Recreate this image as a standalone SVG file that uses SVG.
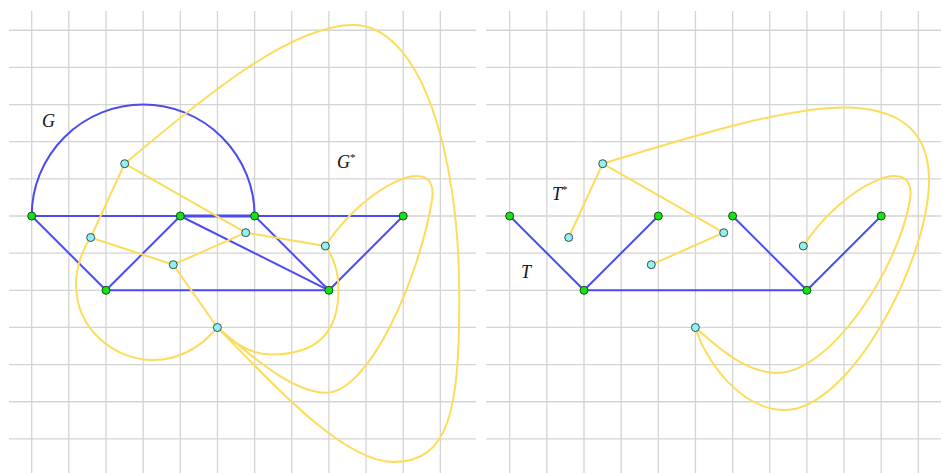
<svg xmlns="http://www.w3.org/2000/svg" width="942" height="473" viewBox="0 0 942 473">
<style>
.grid line{stroke:#d4d4d4;stroke-width:1.3}
.blue{stroke:#4b4bf2;stroke-width:2;fill:none}
.yel{stroke:#fcdc5a;stroke-width:2;fill:none}
.gv{fill:#13e313;stroke:#1d4a1d;stroke-width:1}
.cv{fill:#8cf3f3;stroke:#3c4a4a;stroke-width:1}
.lbl{font-family:"Liberation Serif",serif;font-style:italic;font-size:18px;fill:#111}
.sup{font-size:11px;font-style:normal}
</style>
<rect width="942" height="473" fill="#fff"/>
<g class="grid" id="grid-left">
<line x1="9" y1="30.25" x2="476" y2="30.25"/><line x1="9" y1="67.4" x2="476" y2="67.4"/><line x1="9" y1="104.55" x2="476" y2="104.55"/><line x1="9" y1="141.7" x2="476" y2="141.7"/><line x1="9" y1="178.85" x2="476" y2="178.85"/><line x1="9" y1="216" x2="476" y2="216"/><line x1="9" y1="253.15" x2="476" y2="253.15"/><line x1="9" y1="290.3" x2="476" y2="290.3"/><line x1="9" y1="327.45" x2="476" y2="327.45"/><line x1="9" y1="364.6" x2="476" y2="364.6"/><line x1="9" y1="401.75" x2="476" y2="401.75"/><line x1="9" y1="438.9" x2="476" y2="438.9"/>
<line x1="31.7" y1="11" x2="31.7" y2="473"/><line x1="68.85" y1="11" x2="68.85" y2="473"/><line x1="106" y1="11" x2="106" y2="473"/><line x1="143.15" y1="11" x2="143.15" y2="473"/><line x1="180.3" y1="11" x2="180.3" y2="473"/><line x1="217.45" y1="11" x2="217.45" y2="473"/><line x1="254.6" y1="11" x2="254.6" y2="473"/><line x1="291.75" y1="11" x2="291.75" y2="473"/><line x1="328.9" y1="11" x2="328.9" y2="473"/><line x1="366.05" y1="11" x2="366.05" y2="473"/><line x1="403.2" y1="11" x2="403.2" y2="473"/><line x1="440.35" y1="11" x2="440.35" y2="473"/>
</g>
<g class="grid" id="grid-right">
<line x1="486" y1="30.25" x2="941" y2="30.25"/><line x1="486" y1="67.4" x2="941" y2="67.4"/><line x1="486" y1="104.55" x2="941" y2="104.55"/><line x1="486" y1="141.7" x2="941" y2="141.7"/><line x1="486" y1="178.85" x2="941" y2="178.85"/><line x1="486" y1="216" x2="941" y2="216"/><line x1="486" y1="253.15" x2="941" y2="253.15"/><line x1="486" y1="290.3" x2="941" y2="290.3"/><line x1="486" y1="327.45" x2="941" y2="327.45"/><line x1="486" y1="364.6" x2="941" y2="364.6"/><line x1="486" y1="401.75" x2="941" y2="401.75"/><line x1="486" y1="438.9" x2="941" y2="438.9"/>
<line x1="509.7" y1="11" x2="509.7" y2="473"/><line x1="546.85" y1="11" x2="546.85" y2="473"/><line x1="584" y1="11" x2="584" y2="473"/><line x1="621.15" y1="11" x2="621.15" y2="473"/><line x1="658.3" y1="11" x2="658.3" y2="473"/><line x1="695.45" y1="11" x2="695.45" y2="473"/><line x1="732.6" y1="11" x2="732.6" y2="473"/><line x1="769.75" y1="11" x2="769.75" y2="473"/><line x1="806.9" y1="11" x2="806.9" y2="473"/><line x1="844.05" y1="11" x2="844.05" y2="473"/><line x1="881.2" y1="11" x2="881.2" y2="473"/><line x1="918.35" y1="11" x2="918.35" y2="473"/>
</g>
<g id="connectors">
<g id="G-edges">
<path class="blue" d="M31.7,216 A111.45,111.45 0 0 1 254.6,216"/>
<line class="blue" x1="31.7" y1="216" x2="403.2" y2="216"/>
<line class="blue" x1="180.3" y1="216" x2="254.6" y2="216" style="stroke-width:3"/>
<line class="blue" x1="31.7" y1="216" x2="106" y2="290.3"/>
<line class="blue" x1="106" y1="290.3" x2="180.3" y2="216"/>
<line class="blue" x1="106" y1="290.3" x2="328.9" y2="290.3"/>
<line class="blue" x1="180.3" y1="216" x2="328.9" y2="290.3"/>
<line class="blue" x1="254.6" y1="216" x2="328.9" y2="290.3"/>
<line class="blue" x1="328.9" y1="290.3" x2="403.2" y2="216"/>
</g>
<g id="Gstar-edges">
<line class="yel" x1="124.7" y1="163.7" x2="90.7" y2="237.5"/>
<line class="yel" x1="124.7" y1="163.7" x2="245.7" y2="232.7"/>
<line class="yel" x1="90.7" y1="237.5" x2="173.3" y2="264.7"/>
<line class="yel" x1="173.3" y1="264.7" x2="245.7" y2="232.7"/>
<line class="yel" x1="245.7" y1="232.7" x2="325.3" y2="246"/>
<line class="yel" x1="173.3" y1="264.7" x2="217.4" y2="327.5"/>
<path class="yel" d="M124.7,163.7 C200,100 290,25 353,25 C420,25 459.3,150 459.3,296 C459.3,410 450,462 393,462 C340,462 260,370 217.4,327.5"/>
<path class="yel" d="M325.3,246 C365,185 440,150 432,200 C420,275 370,392.7 326,392.7 C290,392.7 245,350 217.4,327.5"/>
<path class="yel" d="M325.3,246 C333,256 338.5,272 338.5,288 C339,330 320,354.5 271,354.5 C250,354.5 232,342 217.4,327.5"/>
<path class="yel" d="M90.7,237.5 C82,250 76,268 76,284 C76,330 115,360 153.3,360 C185,360 205,342 217.4,327.5"/>
</g>
<g id="T-edges">
<line class="blue" x1="509.7" y1="216" x2="584" y2="290.3"/>
<line class="blue" x1="584" y1="290.3" x2="658.3" y2="216"/>
<line class="blue" x1="584" y1="290.3" x2="806.9" y2="290.3"/>
<line class="blue" x1="732.6" y1="216" x2="806.9" y2="290.3"/>
<line class="blue" x1="806.9" y1="290.3" x2="881.2" y2="216"/>
</g>
<g id="Tstar-edges">
<line class="yel" x1="602.7" y1="163.7" x2="568.7" y2="237.5"/>
<line class="yel" x1="602.7" y1="163.7" x2="723.7" y2="232.7"/>
<line class="yel" x1="651.3" y1="264.7" x2="723.7" y2="232.7"/>
<path class="yel" d="M602.7,163.7 C680,140 790,105 850,107.5 C910,110 929,140 929,180 C929,260 850,410 785,410 C740,410 705,360 695.4,327.5"/>
<path class="yel" d="M803.3,246 C843,185 918,150 910,200 C898,270 830,373 777,373 C745,373 715,345 695.4,327.5"/>
</g>
</g>
<g id="G-vertices">
<circle id="g1" class="gv" cx="31.7" cy="216" r="4"/>
<circle id="g2" class="gv" cx="180.3" cy="216" r="4"/>
<circle id="g3" class="gv" cx="254.6" cy="216" r="4"/>
<circle id="g4" class="gv" cx="403.2" cy="216" r="4"/>
<circle id="g5" class="gv" cx="106" cy="290.3" r="4"/>
<circle id="g6" class="gv" cx="328.9" cy="290.3" r="4"/>
</g>
<g id="Gstar-vertices">
<circle id="a" class="cv" cx="124.7" cy="163.7" r="4"/>
<circle id="b" class="cv" cx="90.7" cy="237.5" r="4"/>
<circle id="c" class="cv" cx="245.7" cy="232.7" r="4"/>
<circle id="d" class="cv" cx="325.3" cy="246" r="4"/>
<circle id="e" class="cv" cx="173.3" cy="264.7" r="4"/>
<circle id="f" class="cv" cx="217.4" cy="327.5" r="4"/>
</g>
<g id="T-vertices">
<circle id="t1" class="gv" cx="509.7" cy="216" r="4"/>
<circle id="t2" class="gv" cx="658.3" cy="216" r="4"/>
<circle id="t3" class="gv" cx="732.6" cy="216" r="4"/>
<circle id="t4" class="gv" cx="881.2" cy="216" r="4"/>
<circle id="t5" class="gv" cx="584" cy="290.3" r="4"/>
<circle id="t6" class="gv" cx="806.9" cy="290.3" r="4"/>
</g>
<g id="Tstar-vertices">
<circle id="ta" class="cv" cx="602.7" cy="163.7" r="4"/>
<circle id="tb" class="cv" cx="568.7" cy="237.5" r="4"/>
<circle id="tc" class="cv" cx="723.7" cy="232.7" r="4"/>
<circle id="td" class="cv" cx="803.3" cy="246" r="4"/>
<circle id="te" class="cv" cx="651.3" cy="264.7" r="4"/>
<circle id="tf" class="cv" cx="695.4" cy="327.5" r="4"/>
</g>
<g id="labels">
<text class="lbl" x="42" y="127">G</text>
<text class="lbl" x="337" y="168">G<tspan class="sup" dy="-7">*</tspan></text>
<text class="lbl" x="552" y="200">T<tspan class="sup" dy="-7">*</tspan></text>
<text class="lbl" x="521" y="278">T</text>
</g>
</svg>
